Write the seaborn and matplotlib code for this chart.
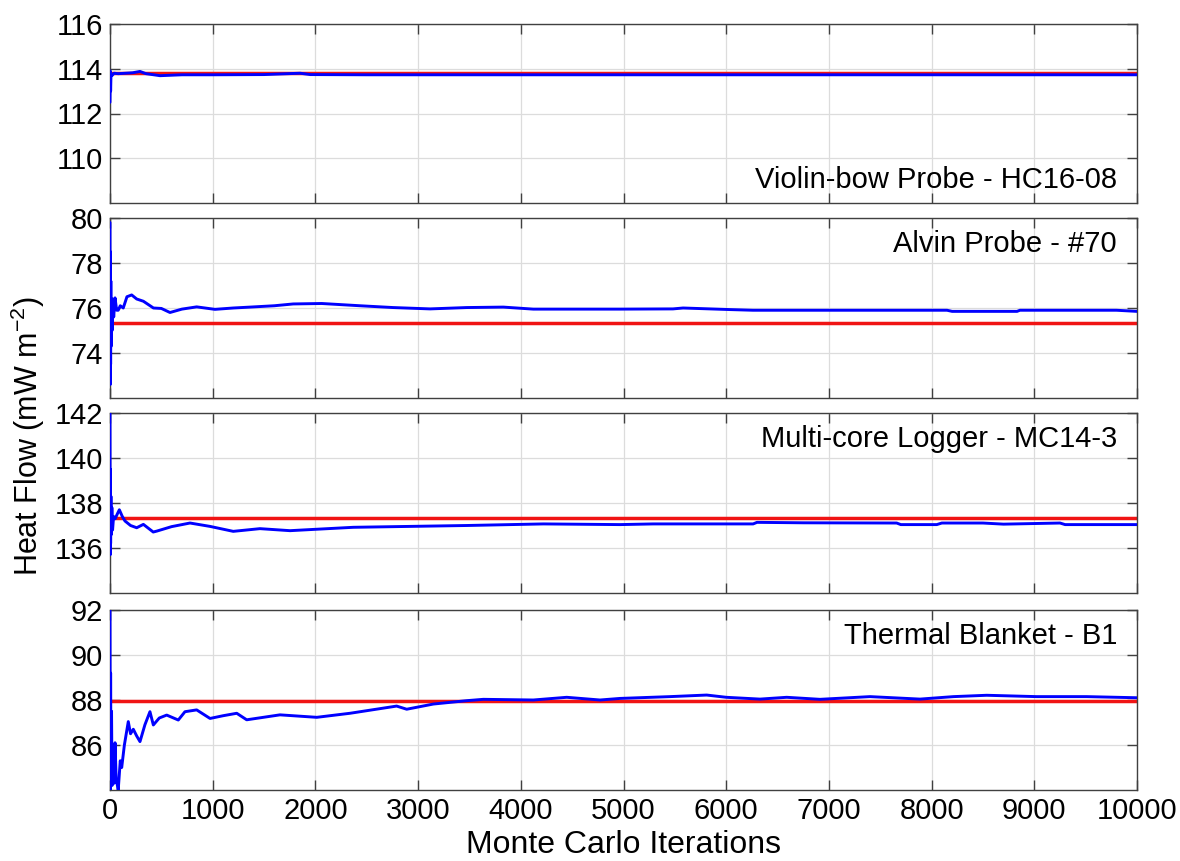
import numpy as np
import pandas as pd
import matplotlib
matplotlib.use("Agg")
import matplotlib.pyplot as plt
import seaborn as sns

# ---------------- data ----------------
panel_labels = ["Violin-bow Probe - HC16-08", "Alvin Probe - #70",
                "Multi-core Logger - MC14-3", "Thermal Blanket - B1"]
reference_values = [113.81, 75.32, 137.33, 87.95]

iters1 = [0, 3, 6, 10, 20, 40, 80, 150, 220, 292, 350, 487, 700, 1000, 1500,
          1850, 1950, 2500, 3000, 4000, 5000, 6000, 7000, 8000, 9000, 10000]
vals1 = [112.5, 113.9, 113.0, 113.8, 113.7, 113.8, 113.78, 113.8, 113.82, 113.88,
         113.78, 113.69, 113.73, 113.73, 113.74, 113.8, 113.74, 113.73, 113.73,
         113.73, 113.73, 113.73, 113.73, 113.73, 113.73, 113.73]

iters2 = [0, 2, 4, 6, 8, 11, 15, 20, 28, 36, 49, 65, 80, 100, 129, 165, 211, 260,
          325, 423, 500, 584, 700, 844, 1022, 1200, 1363, 1600, 1784, 2061, 2434,
          2757, 3116, 3473, 3830, 4122, 4966, 5482, 5580, 6037, 6261, 8150, 8200,
          8832, 8860, 9800, 10000]
vals2 = [79.8, 72.6, 78.5, 73.5, 77.2, 74.3, 76.3, 75.0, 76.4, 75.6, 76.45, 75.9,
         75.9, 76.1, 76.0, 76.5, 76.58, 76.4, 76.3, 76.0, 75.98, 75.8, 75.95, 76.05,
         75.94, 76.0, 76.04, 76.1, 76.18, 76.2, 76.1, 76.02, 75.96, 76.02, 76.04,
         75.95, 75.95, 75.96, 76.0, 75.93, 75.9, 75.9, 75.85, 75.85, 75.9, 75.9, 75.85]

iters3 = [0, 2, 4, 6, 9, 13, 18, 25, 35, 50, 70, 91, 120, 146, 200, 260, 325, 421,
          455, 600, 779, 974, 1200, 1460, 1753, 1915, 2369, 2921, 3473, 4220, 4966,
          5290, 6262, 6300, 6750, 7660, 7700, 8050, 8100, 8500, 8700, 9250, 9300, 10000]
vals3 = [142.0, 135.7, 139.5, 136.2, 138.3, 136.6, 137.8, 136.8, 137.4, 137.3, 137.5,
         137.7, 137.4, 137.2, 137.0, 136.9, 137.05, 136.71, 136.75, 136.95, 137.11,
         136.96, 136.74, 136.86, 136.77, 136.81, 136.92, 136.96, 137.0, 137.07, 137.04,
         137.07, 137.07, 137.14, 137.12, 137.11, 137.04, 137.04, 137.11, 137.11, 137.06,
         137.11, 137.04, 137.04]

iters4 = [0, 3, 6, 10, 15, 20, 30, 40, 49, 60, 80, 100, 114, 140, 178, 200, 227, 260,
          292, 340, 389, 422, 480, 552, 665, 730, 844, 974, 1100, 1234, 1331, 1655,
          2013, 2337, 2791, 2889, 3148, 3473, 3635, 4122, 4447, 4771, 4966, 5453, 5810,
          6001, 6329, 6589, 6913, 7400, 7887, 8213, 8536, 9023, 9510, 10000]
vals4 = [92.0, 84.0, 89.2, 84.5, 87.5, 84.2, 85.8, 84.3, 86.1, 84.5, 84.0, 85.3, 85.0,
         86.0, 87.04, 86.5, 86.7, 86.4, 86.15, 86.9, 87.48, 86.89, 87.2, 87.33, 87.11,
         87.48, 87.56, 87.18, 87.3, 87.41, 87.12, 87.34, 87.23, 87.41, 87.73, 87.59,
         87.82, 87.97, 88.03, 88.0, 88.12, 88.0, 88.07, 88.15, 88.22, 88.12, 88.04,
         88.12, 88.03, 88.15, 88.04, 88.15, 88.21, 88.15, 88.15, 88.1]

y_limits = [(108, 116), (72, 80), (134, 142), (84, 92)]
y_ticks = [[110, 112, 114, 116], [74, 76, 78, 80], [136, 138, 140, 142], [86, 88, 90, 92]]
x_ticks = list(range(0, 10001, 1000))
label_top = [False, True, True, True]

series = [(iters1, vals1), (iters2, vals2), (iters3, vals3), (iters4, vals4)]

# ---------------- style ----------------
sns.set_theme(style="whitegrid")
plt.rcParams['font.family'] = ['Liberation Sans', 'DejaVu Sans']
plt.rcParams['mathtext.fontset'] = 'custom'
plt.rcParams['mathtext.rm'] = 'Liberation Sans'

W, H = 1180, 861
fig = plt.figure(figsize=(W / 100, H / 100), dpi=100)
fig.patch.set_facecolor("white")

left_px, right_px = 110, 1137
panels_px = [(24, 203), (218, 398), (413, 593), (610, 790)]

for i, ((top, bot), (xs, ys)) in enumerate(zip(panels_px, series)):
    ax = fig.add_axes([left_px / W, 1 - bot / H, (right_px - left_px) / W, (bot - top) / H])
    ax.set_facecolor("white")
    df = pd.DataFrame({"iter": xs, "hf": ys})
    ax.axhline(reference_values[i], color="#f01414", lw=2.5, zorder=2)
    sns.lineplot(data=df, x="iter", y="hf", ax=ax, color="#0000ff", lw=2.1,
                 zorder=3, estimator=None, sort=False)
    ax.set_xlim(0, 10000)
    ax.set_ylim(*y_limits[i])
    ax.set_yticks(y_ticks[i])
    ax.set_xticks(x_ticks)
    ax.set_xlabel("")
    ax.set_ylabel("")
    ax.grid(True, color="#dcdcdc", lw=0.9)
    for s in ax.spines.values():
        s.set_color("#404040")
        s.set_linewidth(1.0)
        s.set_visible(True)
    ax.tick_params(direction="in", length=7, width=1, color="#404040",
                   top=True, right=True, bottom=True, left=True,
                   labelsize=21, pad=5, labelcolor="#000000")
    if i < 3:
        ax.tick_params(labelbottom=False)
    if label_top[i]:
        ax.text(0.9805, 0.855, panel_labels[i], transform=ax.transAxes,
                ha="right", va="center", fontsize=21, color="#000000")
    else:
        ax.text(0.9805, 0.13, panel_labels[i], transform=ax.transAxes,
                ha="right", va="center", fontsize=21, color="#000000")

fig.text((left_px + right_px) / 2 / W, 1 - 845 / H, "Monte Carlo Iterations",
         ha="center", va="center", fontsize=23, color="#000000")
fig.text(28 / W, 1 - 436 / H, "Heat Flow (mW m$^{-2}$)", rotation=90,
         ha="center", va="center", fontsize=22, color="#000000")

fig.savefig("out.png", dpi=100, facecolor="white")
